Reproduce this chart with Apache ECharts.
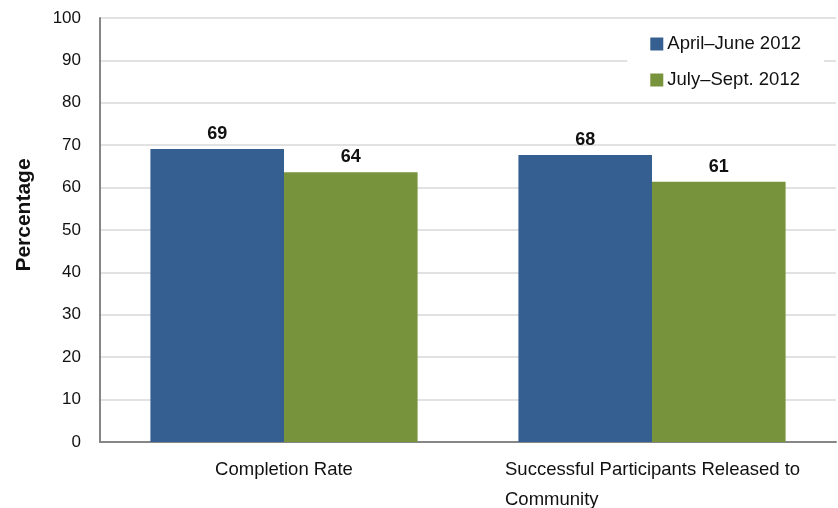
<!DOCTYPE html>
<html>
<head>
<meta charset="utf-8">
<script src="https://cdn.jsdelivr.net/npm/echarts@6/dist/echarts.min.js"></script>
<style>
  html, body { margin: 0; padding: 0; background: #fff; }
  #main { width: 838px; height: 508px; }
</style>
</head>
<body>
<div id="main"></div>
<script>
// values
var categories = ["Completion Rate", "Successful Participants Released to\nCommunity"];
var seriesNames = ["April\u2013June 2012", "July\u2013Sept. 2012"];
var aprJune = [69.1, 67.7];
var julySept = [63.6, 61.4];
var yTicks = [0, 10, 20, 30, 40, 50, 60, 70, 80, 90, 100];

var font = "'Liberation Sans', Arial, sans-serif";
var blue = "#365f91";
var green = "#77933c";

var chartDom = document.getElementById("main");
var myChart = echarts.init(chartDom, null, { renderer: "canvas" });

function catLabel(v) {
  // second category: two lines, left aligned inside a fixed box
  if (v.indexOf("\n") >= 0) {
    return v.split("\n").map(function (s) { return "{l|" + s + "}"; }).join("\n");
  }
  return v;
}

var valueLabel = {
  show: true,
  position: "top",
  distance: 6,
  fontFamily: font,
  fontSize: 18,
  fontWeight: "bold",
  color: "#111",
  formatter: function (p) { return Math.round(p.value); }
};

var option = {
  animation: false,
  grid: { left: 100, right: 2, top: 18, bottom: 66, outerBoundsMode: "none", containLabel: false },
  legend: {
    orient: "vertical",
    right: 14,
    top: 26,
    padding: [7, 23, 7, 23],
    backgroundColor: "#fff",
    itemWidth: 13,
    itemHeight: 13,
    itemGap: 14,
    icon: "rect",
    data: seriesNames,
    textStyle: { fontFamily: font, fontSize: 18.5, color: "#111", lineHeight: 22, padding: [0, 0, 0, -1] }
  },
  xAxis: {
    type: "category",
    data: categories,
    axisLine: { lineStyle: { color: "#868686", width: 2 } },
    axisTick: { show: false },
    axisLabel: {
      interval: 0,
      margin: 13,
      fontFamily: font,
      fontSize: 18.5,
      color: "#111",
      lineHeight: 30,
      formatter: catLabel,
      rich: {
        l: { width: 294, align: "left", fontFamily: font, fontSize: 18.5, color: "#111", lineHeight: 30 }
      }
    }
  },
  yAxis: {
    type: "value",
    min: yTicks[0],
    max: yTicks[yTicks.length - 1],
    interval: yTicks[1] - yTicks[0],
    name: "Percentage",
    nameLocation: "middle",
    nameGap: 65,
    nameTextStyle: { fontFamily: font, fontSize: 21, fontWeight: "bold", color: "#111", padding: [0, 0, 0, 30] },
    axisLine: { show: true, lineStyle: { color: "#868686", width: 2 } },
    axisTick: { show: false },
    splitLine: { lineStyle: { color: "#d9d9d9", width: 1.5 } },
    axisLabel: { margin: 19, fontFamily: font, fontSize: 17, color: "#111" }
  },
  series: [
    {
      name: seriesNames[0],
      type: "bar",
      data: aprJune,
      barGap: "0%",
      barCategoryGap: "27.4%",
      itemStyle: { color: blue },
      label: valueLabel
    },
    {
      name: seriesNames[1],
      type: "bar",
      data: julySept,
      itemStyle: { color: green },
      label: valueLabel
    }
  ]
};

option && myChart.setOption(option);
</script>
</body>
</html>
